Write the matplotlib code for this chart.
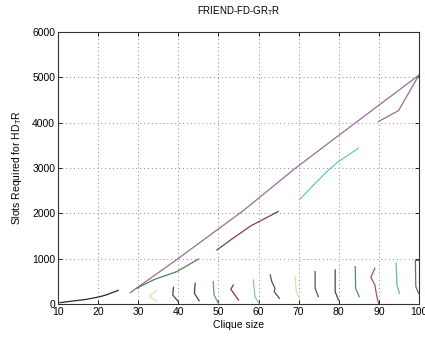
import matplotlib
matplotlib.use("Agg")
import matplotlib.pyplot as plt

plt.rcParams['font.family'] = ['Liberation Sans', 'DejaVu Sans']

title = "FRIEND-FD-GR$_\\mathregular{T}$R"
xlabel = "Clique size"
ylabel = "Slots Required for HD$_\\mathregular{T}$R"
xticks = [10, 20, 30, 40, 50, 60, 70, 80, 90, 100]
yticks = [0, 1000, 2000, 3000, 4000, 5000, 6000]

# Each series: (x values, y values, colour)
s_black_x = [10.5, 17.1, 20.5, 22.0, 25.0]
s_black_y = [30, 103, 162, 200, 300]
s_purple_x = [28.0, 39.6, 56.2, 69.1, 83.6, 100.0]
s_purple_y = [250, 980, 2060, 2990, 3960, 5050]
s_green_x = [29.6, 34.0, 39.6, 45.0]
s_green_y = [346, 540, 713, 990]
s_red_x = [49.6, 53.3, 58.0, 64.9]
s_red_y = [1190, 1430, 1720, 2040]
s_cyan_x = [70.3, 74.0, 77.0, 79.9, 84.9]
s_cyan_y = [2311, 2650, 2920, 3141, 3437]
s_purple2_x = [89.9, 94.9, 100.0]
s_purple2_y = [4025, 4267, 5050]

q33_x = [34.5, 32.8, 34.5]
q33_y = [300, 170, 60]
q39_x = [38.8, 38.6, 40.0]
q39_y = [368, 199, 51]
q45_x = [44.2, 44.0, 45.2]
q45_y = [457, 236, 73]
q50_x = [48.7, 48.9, 50.0]
q50_y = [493, 199, 15]
q54_x = [53.7, 53.1, 54.1, 55.0]
q54_y = [420, 324, 199, 88]
q59_x = [58.7, 59.1, 60.2]
q59_y = [530, 162, 0]
q64_x = [62.9, 63.3, 64.1, 63.9, 65.2]
q64_y = [640, 493, 346, 272, 125]
q69_x = [69.1, 69.4, 70.2]
q69_y = [604, 272, 125]
q74_x = [74.1, 74.1, 74.9]
q74_y = [714, 346, 162]
q79_x = [79.1, 79.1, 79.9]
q79_y = [751, 272, 88]
q84_x = [84.1, 84.2, 85.1]
q84_y = [824, 346, 162]
q89_x = [89.0, 88.0, 89.0, 89.5, 89.9]
q89_y = [788, 589, 420, 162, 15]
q94_x = [94.3, 94.5, 95.1]
q94_y = [898, 420, 236]
q99_x = [100.0, 99.1, 99.2, 99.9]
q99_y = [960, 960, 383, 236]

series = [
    (s_black_x, s_black_y, "#2a2a2a"),
    (s_purple_x, s_purple_y, "#9a6a9a"),
    (s_green_x, s_green_y, "#4f7f55"),
    (s_red_x, s_red_y, "#7a4052"),
    (s_cyan_x, s_cyan_y, "#6cc4c4"),
    (s_purple2_x, s_purple2_y, "#9a6a9a"),
    (q33_x, q33_y, "#dfe4a8"),
    (q39_x, q39_y, "#3c4656"),
    (q45_x, q45_y, "#3a4848"),
    (q50_x, q50_y, "#5f9a7c"),
    (q54_x, q54_y, "#7a3c42"),
    (q59_x, q59_y, "#86c0c0"),
    (q64_x, q64_y, "#5a4a68"),
    (q69_x, q69_y, "#e2e0a6"),
    (q74_x, q74_y, "#555566"),
    (q79_x, q79_y, "#45475c"),
    (q84_x, q84_y, "#4e8c6c"),
    (q89_x, q89_y, "#a0506e"),
    (q94_x, q94_y, "#68b4b4"),
    (q99_x, q99_y, "#806080"),
]

fig = plt.figure(figsize=(4.25, 3.38), dpi=100)
ax = fig.add_axes([58/425, 34/338, 361/425, 272/338])

for xs, ys, c in series:
    ax.plot(xs, ys, color=c, linewidth=0.9)

ax.set_xlim(10, 100)
ax.set_ylim(0, 6000)
ax.set_xticks(xticks)
ax.set_yticks(yticks)
ax.grid(True, linestyle=(0, (1, 3)), color="#888888", linewidth=0.7)
ax.tick_params(direction="in", top=True, right=True, labelsize=7.5, length=3, width=0.6, pad=2)
for sp in ax.spines.values():
    sp.set_linewidth(0.8)
    sp.set_color("#333333")

ax.set_title(title, fontsize=7, pad=13)
ax.set_xlabel(xlabel, fontsize=7.5, labelpad=2)
ax.set_ylabel(ylabel, fontsize=7.5, labelpad=6)

fig.savefig("out.png", dpi=100)
